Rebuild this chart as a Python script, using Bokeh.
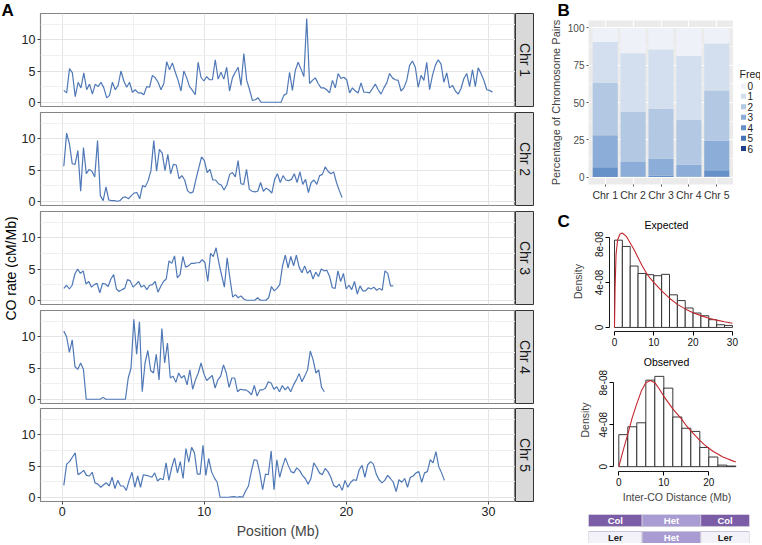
import numpy as np
from bokeh.plotting import figure
from bokeh.models import Range1d, FixedTicker, ColumnDataSource
from bokeh.layouts import row, column
from bokeh.embed import file_html
from bokeh.resources import INLINE
from bokeh.core.properties import value

FONT = "Liberation Sans"
LINE_BLUE = "#4f78b6"

# ---------------- Panel A data: CO rate (cM/Mb) along each chromosome ----------------
chr_names = ["Chr 1", "Chr 2", "Chr 3", "Chr 4", "Chr 5"]
chr_spans = [(0.12, 30.28), (0.12, 19.70), (0.12, 23.30), (0.12, 18.45), (0.12, 26.90)]

chr1_rate = [
    1.9, 1.5, 5.4, 4.7, 0.9, 3.2, 2.3, 4.7, 2.0, 2.9,
    1.3, 2.9, 2.5, 3.2, 2.3, 0.7, 1.1, 3.2, 2.0, 2.7,
    5.0, 3.4, 2.4, 3.2, 1.6, 2.0, 1.5, 1.5, 1.2, 2.5,
    2.4, 4.3, 3.9, 3.2, 2.0, 3.0, 6.5, 5.2, 6.3, 4.8,
    3.5, 1.8, 5.0, 3.9, 2.5, 1.9, 1.2, 6.4, 4.0, 3.4,
    4.1, 3.6, 3.6, 6.8, 3.7, 4.8, 3.7, 5.6, 1.8, 3.9,
    4.8, 5.6, 2.7, 7.8, 3.5, 2.0, 0.3, 0.4, 0.7, 0.0,
    0.0, 0.0, 0.0, 0.0, 0.0, 0.0, 0.0,
    1.1, 1.4, 4.8, 1.9, 5.1, 6.4, 5.3, 4.1, 13.4, 3.0,
    3.5, 3.9, 3.0, 2.3, 2.3, 2.0, 1.5, 3.5, 2.3, 4.6,
    3.8, 4.0, 3.6, 1.5, 2.3, 1.8, 1.5, 3.1, 1.6, 1.6,
    1.5, 2.2, 2.9, 2.0, 1.3, 2.3, 3.1, 4.6, 3.9, 3.6,
    3.5, 1.8, 2.3, 3.5, 5.9, 6.6, 5.6, 2.4, 4.3, 3.5,
    6.4, 2.0, 4.3, 5.9, 6.8, 6.1, 3.2, 4.7, 2.3, 2.7,
    1.8, 1.3, 2.2, 3.8, 4.6, 2.5, 5.2, 2.5, 5.5, 4.6,
    3.5, 2.0, 1.9, 1.6]

chr2_rate = [
    5.6, 10.9, 9.2, 6.0, 5.9, 8.1, 1.6, 8.6, 4.4, 5.1,
    4.8, 3.9, 9.7, 0.9, 0.1, 2.3, 0.2, 0.1, 0.1, 0.0,
    0.1, 0.6, 0.7, 0.4, 0.9, 1.3, 1.4, 0.4, 2.5, 2.3,
    3.3, 4.9, 9.7, 4.8, 8.3, 7.7, 4.9, 7.5, 4.4, 5.9,
    5.8, 3.6, 4.1, 3.4, 1.7, 1.3, 1.5, 3.5, 5.3, 7.1,
    6.5, 4.6, 5.1, 3.4, 3.4, 2.8, 2.6, 1.8, 2.6, 4.3,
    4.6, 3.9, 6.5, 2.8, 2.7, 5.1, 1.9, 1.6, 1.5, 1.6,
    3.0, 1.6, 2.1, 1.8, 1.3,
    3.5, 4.4, 3.0, 4.1, 3.4, 3.3, 3.5, 4.4, 3.0, 4.7,
    2.7, 3.5, 1.4, 3.0, 3.4, 2.7, 4.1, 4.3, 5.5, 4.8,
    4.4, 4.7, 3.0, 1.7, 0.6]

chr3_rate = [
    1.9, 2.4, 1.8, 2.4, 4.2, 5.0, 4.3, 4.7, 2.6, 3.0,
    2.1, 2.5, 2.7, 1.2, 2.7, 2.6, 2.2, 3.4, 4.1, 1.8,
    1.4, 1.7, 1.9, 3.3, 3.1, 2.1, 2.5, 3.0, 2.1, 2.4,
    1.7, 2.4, 2.5, 3.0, 1.3, 2.2, 3.0, 3.4,
    6.3, 5.9, 7.1, 3.6, 4.1, 7.0, 5.3, 5.5, 5.9, 5.9,
    6.0, 6.0, 6.5, 6.0, 3.0, 7.5, 7.0, 8.4, 6.0, 4.0,
    2.1, 6.8, 3.5, 0.5, 0.9, 0.4, 0.7, 0.2, 0.0, 0.0,
    0.0, 0.0, 0.4, 0.0, 0.0, 0.0, 0.4,
    2.2, 1.5, 1.9, 2.5, 5.5, 7.2, 5.2, 7.0, 5.5, 7.2,
    5.3, 4.4, 5.5, 4.3, 4.8, 3.4, 4.5, 3.8, 5.0, 4.7,
    4.8, 3.8, 2.0, 1.9, 4.7, 3.0, 4.3, 1.8, 2.4, 1.7,
    3.0, 1.0, 2.3, 1.5, 1.5, 2.0, 1.8, 2.1, 1.6, 1.9,
    1.6, 4.7, 4.3, 2.3, 2.3]

chr4_rate = [
    10.9, 10.0, 7.5, 9.5, 5.2, 4.8, 5.8, 4.8,
    0.0, 0.0, 0.0, 0.0, 0.0, 0.0, 0.3, 0.0, 0.0, 0.0,
    0.0, 0.0, 0.0, 0.0, 0.0,
    3.4, 5.0, 12.8, 7.2, 12.4, 1.2, 5.8, 7.8, 4.6, 4.2,
    7.2, 3.1, 11.3, 5.8, 9.0, 3.4, 3.7, 2.7, 4.2, 3.4,
    3.8, 2.3, 4.7, 1.6, 3.1, 4.2, 5.8, 4.1, 3.0, 3.4,
    3.8, 1.8, 3.1, 3.7, 5.5, 4.2, 1.9, 3.4, 3.4, 1.2,
    1.6, 1.5, 1.5, 1.2, 0.7, 2.2, 0.5, 1.5, 1.5, 1.8, 2.8,
    2.6, 1.6, 2.0, 1.2, 2.2, 1.5, 2.0, 1.2, 2.3, 3.1,
    4.1, 2.8, 3.7, 4.7, 7.7, 6.3, 4.2, 4.7, 1.9, 1.2]

chr5_rate = [
    1.9, 5.3, 5.7, 6.4, 7.1, 3.6, 3.9, 4.3, 3.5, 3.4,
    4.0, 2.3, 2.1, 1.6, 2.0, 2.3, 1.8, 3.2, 1.4, 2.7,
    1.8, 1.8, 1.1, 2.7, 4.0, 1.6, 3.4, 1.6, 3.6, 3.5,
    3.4, 3.2, 3.9, 2.6, 3.0, 2.8, 5.5, 2.7, 4.8, 6.3,
    3.9, 5.7, 3.0, 7.8, 5.6, 8.0, 7.1, 3.7, 3.7, 8.3,
    3.5, 6.2, 4.1, 3.1, 2.4, 0.0, 0.0, 0.0, 0.0, 0.05,
    0.1, 0.0, 0.1, 0.0, 1.0, 1.8, 4.1, 6.0, 5.9, 3.9,
    1.2, 3.7, 3.6,
    7.4, 1.2, 6.0, 3.2, 4.9, 6.3, 5.1, 4.1, 3.9, 4.7,
    4.3, 3.5, 3.0, 2.1, 3.0, 5.5, 4.8, 3.9, 3.6, 4.6,
    4.1, 3.2, 1.9, 1.6, 2.1, 1.1, 2.7, 1.6, 2.4, 2.8,
    2.7, 4.4, 5.1, 3.2, 5.2, 5.7, 5.3, 3.7, 2.8, 2.3,
    2.7, 3.5, 3.0, 2.4, 0.9, 2.8, 2.4, 3.0, 1.6, 3.2,
    3.4, 3.9, 4.1, 2.4, 3.9, 4.1, 6.0, 5.5, 7.3, 4.9,
    3.9, 2.7]

chr_rates = [chr1_rate, chr2_rate, chr3_rate, chr4_rate, chr5_rate]
pos_ticks = [0, 10, 20, 30]
rate_ticks = [0, 5, 10]

# ---------------- Panel B data: % of chromosome pairs by CO count ----------------
bar_cats = ["Chr 1", "Chr 2", "Chr 3", "Chr 4", "Chr 5"]
freq0 = [9.5, 17.0, 14.4, 18.8, 10.4]
freq1 = [27.5, 39.3, 39.8, 42.7, 31.6]
freq2 = [35.0, 33.6, 33.4, 30.3, 33.7]
freq3 = [21.4, 9.8, 11.5, 7.9, 19.7]
freq4 = [6.1, 0.3, 0.9, 0.3, 4.3]
freq5 = [0.4, 0.0, 0.0, 0.0, 0.3]
freq6 = [0.1, 0.0, 0.0, 0.0, 0.0]
freq_labels = ["0", "1", "2", "3", "4", "5", "6"]
freq_colors = ["#eef1f7", "#d3deee", "#b2c8e3", "#8cadd7", "#6590c8", "#4674b6", "#1f3f8d"]
pct_ticks = [0, 25, 50, 75, 100]

# ---------------- Panel C data: inter-CO distance densities (x1e-8) ----------------
exp_breaks = [0, 2, 4, 6, 8, 10, 12, 14, 16, 18, 20, 22, 24, 26, 28, 30]
exp_density = [7.76, 7.2, 5.46, 4.8, 4.69, 4.6, 4.72, 2.9, 2.39, 1.73, 1.28, 1.04, 0.69, 0.24, 0.18]
exp_curve_x = [0, 0.15, 0.4, 0.8, 1.4, 2, 3, 4, 5, 6, 7, 8, 9, 10, 12, 14, 16, 18, 20, 22, 24, 26, 28, 30]
exp_curve_y = [0, 3.5, 6.5, 7.8, 8.3, 8.4, 8.1, 7.5, 6.9, 6.2, 5.5, 4.9, 4.4, 4.0, 3.25, 2.6, 2.05, 1.65, 1.3, 1.05, 0.82, 0.65, 0.5, 0.37]

obs_breaks = [0, 2, 4, 6, 8, 10, 12, 14, 16, 18, 20, 22, 24, 26]
obs_density = [3.05, 3.8, 4.18, 8.24, 8.6, 7.48, 4.73, 3.66, 3.36, 1.83, 0.92, 0.15, 0.06]
obs_curve_x = [0, 1, 2, 3, 4, 5, 6, 7, 8, 9, 10, 11, 12, 13, 14, 15, 16, 17, 18, 19, 20, 21, 22, 23, 24, 25, 26]
obs_curve_y = [0, 1.6, 3.1, 4.7, 6.0, 7.2, 8.0, 8.2, 8.0, 7.4, 6.7, 6.1, 5.5, 5.0, 4.5, 3.9, 3.4, 2.95, 2.5, 2.1, 1.75, 1.45, 1.2, 0.95, 0.77, 0.6, 0.45]
dens_ticks = [0, 4, 8]
dens_labels = ["0", "4e-08", "8e-08"]

# genotype diagram
geno_top = ["Col", "Het", "Col"]
geno_bottom = ["Ler", "Het", "Ler"]
geno_len = [1.1, 1.2, 1.0]
geno_fill = {"Col": "#7b5ca7", "Het": "#a99cd3", "Ler": "#f4f2f9"}
geno_text = {"Col": "#ffffff", "Het": "#ffffff", "Ler": "#222222"}


def base_fig(**kw):
    p = figure(output_backend="svg", toolbar_location=None, **kw)
    p.border_fill_color = "white"
    return p


def blank(p):
    p.outline_line_color = None
    p.xgrid.visible = False
    p.ygrid.visible = False


def style_axis(ax, size="12px", color="#222222"):
    ax.axis_label_text_font = FONT
    ax.axis_label_text_font_style = "normal"
    ax.major_label_text_font = FONT
    ax.major_label_text_font_size = size
    ax.major_label_text_color = color
    ax.minor_tick_out = 0
    ax.minor_tick_in = 0
    ax.major_tick_in = 0


NB = dict(x_axis_location=None, y_axis_location=None)
ZB = dict(min_border_left=0, min_border_right=0, min_border_top=0, min_border_bottom=0)


def text_panel(w, h):
    """A blank full-frame figure (pixel-sized ranges) used only to hold text."""
    t = base_fig(width=w, height=h, x_range=Range1d(0, w), y_range=Range1d(0, h), **ZB, **NB)
    blank(t)
    return t


TOTAL_H = 543

# ---------------- y-label column with "A" ----------------
YL_W = 18
py = text_panel(YL_W, TOTAL_H)
py.text(x=[1], y=[TOTAL_H - 10], text=["A"], text_font=value(FONT), text_font_style="bold",
        text_font_size="17px", text_align="left", text_baseline="middle", text_color="black")
py.text(x=[10], y=[TOTAL_H - 268], text=["CO rate (cM/Mb)"], angle=np.pi / 2, text_font=value(FONT),
        text_font_size="14px", text_align="center", text_baseline="middle", text_color="black")

# ---------------- Panel A ----------------
a_top = [13, 3, 3, 3, 2]
a_bot = [3, 3, 3, 3, 42]
FRAME_A = 93
A_W = 497
a_figs, s_figs = [], []
for i, (name, rate, span) in enumerate(zip(chr_names, chr_rates, chr_spans)):
    top, bottom = a_top[i], a_bot[i]
    h = top + FRAME_A + bottom
    p = base_fig(width=A_W, height=h, x_range=Range1d(-1.52, 31.9), y_range=Range1d(-0.68, 14.2),
                 min_border_left=22, min_border_right=0, min_border_top=top, min_border_bottom=bottom)
    xs = np.linspace(span[0], span[1], len(rate))
    p.line(xs, rate, line_color=LINE_BLUE, line_width=1.2)
    p.outline_line_color = "#858585"
    p.outline_line_width = 1.2
    p.xaxis.ticker = FixedTicker(ticks=pos_ticks, minor_ticks=[5, 15, 25])
    p.yaxis.ticker = FixedTicker(ticks=rate_ticks, minor_ticks=[2.5, 7.5, 12.5])
    p.xgrid.grid_line_color = "#e4e4e4"
    p.ygrid.grid_line_color = "#e4e4e4"
    p.xgrid.minor_grid_line_color = "#f0f0f0"
    p.ygrid.minor_grid_line_color = "#f0f0f0"
    for ax in (p.xaxis[0], p.yaxis[0]):
        style_axis(ax, "12.5px")
        ax.axis_line_color = None
        ax.major_tick_line_color = "#444444"
        ax.major_tick_out = 3
        ax.major_label_standoff = 2
    if i < 4:
        p.xaxis.visible = False
    else:
        p.xaxis.axis_label = "Position (Mb)"
        p.xaxis.axis_label_text_font_size = "14px"
        p.xaxis.axis_label_standoff = 4

    s = base_fig(width=20, height=h, x_range=Range1d(0, 1), y_range=Range1d(0, 1),
                 min_border_left=0, min_border_right=2, min_border_top=top, min_border_bottom=bottom,
                 **NB)
    s.background_fill_color = "#d9d9d9"
    s.outline_line_color = "#333333"
    s.outline_line_width = 1
    s.xgrid.visible = False
    s.ygrid.visible = False
    s.text(x=[0.5], y=[0.5], text=[name], angle=-np.pi / 2, text_font=value(FONT),
           text_font_size="14px", text_align="center", text_baseline="middle", text_color="#1a1a1a")
    a_figs.append(p)
    s_figs.append(s)

# ---------------- right-hand column ----------------
RW = 225

# "B" letter strip
b_strip = text_panel(RW, 20)
b_strip.text(x=[22], y=[10], text=["B"], text_font=value(FONT), text_font_style="bold",
             text_font_size="17px", text_align="left", text_baseline="middle", text_color="black")

# Panel B stacked bars
B_H = 183
B_TOP, B_BOT = 0, 15
LEG_W = 27
pb = base_fig(width=RW - LEG_W, height=B_H, x_range=Range1d(0.4, 5.6), y_range=Range1d(-5, 105),
              min_border_left=53, min_border_right=0, min_border_top=B_TOP, min_border_bottom=B_BOT)
bar_x = [k + 1 for k in range(len(bar_cats))]
src = ColumnDataSource(dict(x=bar_x, f0=freq0, f1=freq1, f2=freq2, f3=freq3,
                            f4=freq4, f5=freq5, f6=freq6))
stack_order = ["f6", "f5", "f4", "f3", "f2", "f1", "f0"]
pb.vbar_stack(stack_order, x="x", width=0.9, source=src,
              fill_color=[freq_colors[6 - k] for k in range(7)], line_color=None)
pb.background_fill_color = "#ebebeb"
pb.outline_line_color = None
pb.xaxis.ticker = FixedTicker(ticks=bar_x)
pb.xaxis.major_label_overrides = {x: c for x, c in zip(bar_x, bar_cats)}
pb.yaxis.ticker = FixedTicker(ticks=pct_ticks, minor_ticks=[12.5, 37.5, 62.5, 87.5])
pb.xgrid.grid_line_color = "white"
pb.ygrid.grid_line_color = "white"
pb.ygrid.minor_grid_line_color = "white"
pb.ygrid.minor_grid_line_width = 0.5
for ax in (pb.xaxis[0], pb.yaxis[0]):
    style_axis(ax, "10px", "#4d4d4d")
    ax.axis_line_color = None
    ax.major_tick_line_color = "#555555"
    ax.major_tick_out = 2
    ax.major_label_standoff = 2
pb.yaxis.axis_label = "Percentage of Chromosome Pairs"
pb.yaxis.axis_label_text_font_size = "11px"
pb.yaxis.axis_label_standoff = 3
pb.xaxis.major_label_text_color = "#333333"
pb.xaxis.major_label_text_font_size = "10.5px"

# legend key for B (items placed by freq index); same borders as pb so frames align
KEY_PX = 10.7
LEG_FRAME = B_H - B_TOP - B_BOT
key_top = (67.0 - B_TOP) / KEY_PX
pl = base_fig(width=LEG_W, height=B_H, x_range=Range1d(0, LEG_W),
              y_range=Range1d(key_top - LEG_FRAME / KEY_PX, key_top),
              min_border_left=0, min_border_right=0, min_border_top=B_TOP, min_border_bottom=B_BOT, **NB)
blank(pl)
key_y = [-k for k in range(len(freq_labels))]
pl.rect(x=[10] * len(key_y), y=key_y, width=5, height=5, width_units="screen", height_units="screen",
        fill_color=freq_colors, line_color=None)
pl.text(x=[14] * len(key_y), y=key_y, text=freq_labels, text_font=value(FONT), text_font_size="10px",
        text_align="left", text_baseline="middle", text_color="#1a1a1a")
pl.text(x=[6], y=[1.15], text=["Freq"], text_font=value(FONT), text_font_size="10.5px",
        text_align="left", text_baseline="middle", text_color="#1a1a1a")


def r_axes(p, xt, xb, xlabel=None, lab_standoff=8):
    blank(p)
    p.xaxis.ticker = FixedTicker(ticks=xt)
    p.xaxis.bounds = xb
    p.yaxis.ticker = FixedTicker(ticks=dens_ticks)
    p.yaxis.bounds = (0, 8)
    p.yaxis.major_label_overrides = {t: l for t, l in zip(dens_ticks, dens_labels)}
    p.yaxis.major_label_orientation = "vertical"
    for ax in (p.xaxis[0], p.yaxis[0]):
        style_axis(ax, "10px", "#111111")
        ax.axis_line_color = "black"
        ax.axis_line_width = 0.9
        ax.major_tick_line_color = "black"
        ax.major_tick_out = 4
        ax.major_label_standoff = 2
        ax.axis_label_text_font_size = "10.5px"
    p.yaxis.axis_label = "Density"
    p.yaxis.axis_label_standoff = lab_standoff
    if xlabel:
        p.xaxis.axis_label = xlabel
        p.xaxis.axis_label_standoff = 2


# "C" letter + "Expected" title strip
c_strip = text_panel(RW, 28)
c_strip.text(x=[22], y=[10], text=["C"], text_font=value(FONT), text_font_style="bold",
             text_font_size="17px", text_align="left", text_baseline="middle", text_color="black")
c_strip.text(x=[131], y=[7], text=["Expected"], text_font=value(FONT), text_font_size="10.5px",
             text_align="center", text_baseline="middle", text_color="black")

# Panel C: expected
pe = base_fig(width=RW, height=117, x_range=Range1d(-1.27, 31.3), y_range=Range1d(-0.36, 8.53),
              min_border_left=74, min_border_right=23, min_border_top=0, min_border_bottom=17)
pe.quad(left=exp_breaks[:-1], right=exp_breaks[1:], bottom=0, top=exp_density,
        fill_color="white", line_color="#222222", line_width=0.9)
pe.line(exp_curve_x, exp_curve_y, line_color="#c4262e", line_width=1.1)
r_axes(pe, [0, 10, 20, 30], (0, 30), lab_standoff=9)

# "Observed" title strip
o_strip = text_panel(RW, 20)
o_strip.text(x=[131], y=[7], text=["Observed"], text_font=value(FONT), text_font_size="10.5px",
             text_align="center", text_baseline="middle", text_color="black")

# Panel C: observed
po = base_fig(width=RW, height=137, x_range=Range1d(-1.18, 27.04), y_range=Range1d(-0.46, 9.35),
              min_border_left=78, min_border_right=20, min_border_top=0, min_border_bottom=30)
po.quad(left=obs_breaks[:-1], right=obs_breaks[1:], bottom=0, top=obs_density,
        fill_color="white", line_color="#222222", line_width=0.9)
po.line(obs_curve_x, obs_curve_y, line_color="#c4262e", line_width=1.1)
r_axes(po, [0, 10, 20], (0, 20), xlabel="Inter-CO Distance (Mb)", lab_standoff=6)

# genotype diagram
pdg = base_fig(width=RW, height=38, x_range=Range1d(0, sum(geno_len)), y_range=Range1d(0, 2.42),
               min_border_left=53, min_border_right=11, min_border_top=9, min_border_bottom=0, **NB)
blank(pdg)
edges = np.concatenate([[0], np.cumsum(geno_len)])
for names, yc in ((geno_top, 1.92), (geno_bottom, 0.5)):
    lefts = edges[:-1]
    rights = edges[1:]
    pdg.quad(left=lefts, right=rights, bottom=yc - 0.5, top=yc + 0.5,
             fill_color=[geno_fill[n] for n in names], line_color="#c9c5d6", line_width=1)
    pdg.text(x=(lefts + rights) / 2, y=[yc] * 3, text=names, text_font=value(FONT),
             text_font_style="bold", text_font_size="9.5px", text_align="center",
             text_baseline="middle", text_color=[geno_text[n] for n in names])

# each right-hand piece wrapped in its own row so that the column does not align their frames
right_col = column(row(b_strip), row(pb, pl, spacing=0), row(c_strip), row(pe), row(o_strip),
                   row(po), row(pdg), spacing=0)
layout = row(py, column(*a_figs, spacing=0), column(*s_figs, spacing=0), right_col, spacing=0)

open("out.html", "w").write(file_html(layout, INLINE, title="CO rate"))
